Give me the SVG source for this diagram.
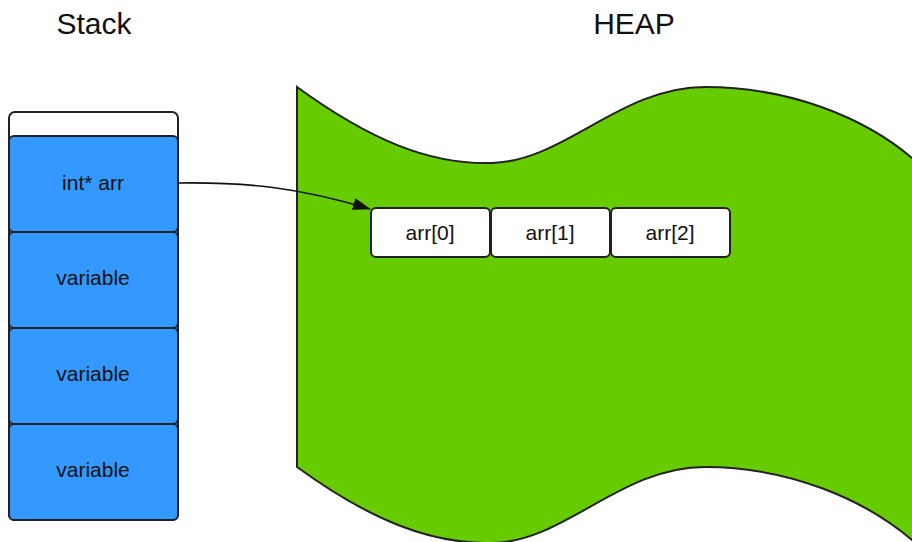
<svg xmlns="http://www.w3.org/2000/svg" width="912" height="542" viewBox="0 0 912 542">
  <style>
    .title { font-family: "Liberation Sans", Arial, sans-serif; font-size: 30px; fill: #111; text-anchor: middle; }
    .lbl { font-family: "Liberation Sans", Arial, sans-serif; font-size: 21px; fill: #111; text-anchor: middle; dominant-baseline: central; }
    .cell { fill: #3399ff; stroke: #222; stroke-width: 2; }
    .box { fill: #ffffff; stroke: #222; stroke-width: 2; }
    .edge { fill: none; stroke: #111; stroke-width: 1.6; }
  </style>
  <defs>
    <marker id="head" viewBox="0 0 18 12" refX="17" refY="6" markerWidth="18" markerHeight="12" markerUnits="userSpaceOnUse" orient="auto">
      <path d="M0,0 L18,6 L0,12 Z" fill="#111"/>
    </marker>
  </defs>

  <rect width="912" height="542" fill="#ffffff"/>

  <text class="title" x="94" y="34">Stack</text>
  <text class="title" x="634" y="34">HEAP</text>

  <!-- heap region: wavy green area -->
  <g id="heap">
    <path d="M297,87 C370,140 430,165 492,163 C565,161 620,87 705,87 C790,87 865,118 912,158 L950,190 L950,560 L912,540 C865,500 790,467 705,467 C620,467 565,542 492,543 C430,544 370,520 297,467 Z" fill="#66cc00" stroke="#222" stroke-width="2"/>
  </g>

  <!-- stack frame -->
  <g id="stack">
    <rect x="9" y="112" width="169" height="408" rx="6" fill="#ffffff" stroke="#222" stroke-width="2"/>
  </g>
  <g id="cell-arr">
    <rect class="cell" x="9" y="136" width="169" height="96" rx="5"/>
    <text class="lbl" x="93" y="182">int* arr</text>
  </g>
  <g id="cell-var1">
    <rect class="cell" x="9" y="232" width="169" height="96" rx="5"/>
    <text class="lbl" x="93" y="277">variable</text>
  </g>
  <g id="cell-var2">
    <rect class="cell" x="9" y="328" width="169" height="96" rx="5"/>
    <text class="lbl" x="93" y="373">variable</text>
  </g>
  <g id="cell-var3">
    <rect class="cell" x="9" y="424" width="169" height="96" rx="5"/>
    <text class="lbl" x="93" y="469">variable</text>
  </g>

  <!-- heap array elements -->
  <g id="arr0">
    <rect class="box" x="371" y="208" width="119" height="49" rx="5"/>
    <text class="lbl" x="430" y="232">arr[0]</text>
  </g>
  <g id="arr1">
    <rect class="box" x="491" y="208" width="119" height="49" rx="5"/>
    <text class="lbl" x="550" y="232">arr[1]</text>
  </g>
  <g id="arr2">
    <rect class="box" x="611" y="208" width="119" height="49" rx="5"/>
    <text class="lbl" x="670" y="232">arr[2]</text>
  </g>

  <g id="connectors">
    <path class="edge" d="M178,183 C250,182 300,188 370,209" marker-end="url(#head)"/>
  </g>
</svg>
